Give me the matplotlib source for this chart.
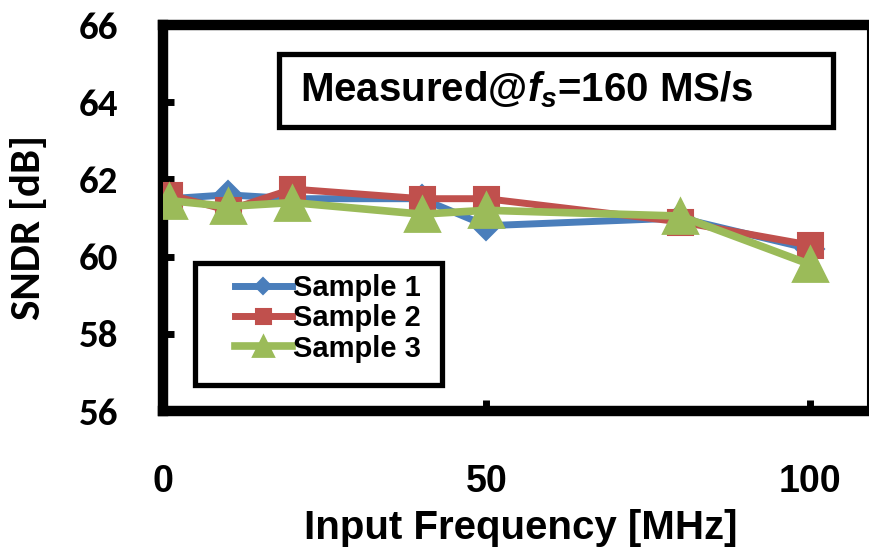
import matplotlib
matplotlib.use("Agg")
import matplotlib.pyplot as plt
from matplotlib.patches import Rectangle

plt.rcParams['mathtext.fontset'] = 'custom'
plt.rcParams['mathtext.rm'] = 'Liberation Sans:bold'
plt.rcParams['mathtext.it'] = 'Liberation Sans:bold:italic'
plt.rcParams['xtick.direction'] = 'in'
plt.rcParams['ytick.direction'] = 'in'

# input frequency [MHz] and measured SNDR [dB]
freq = [1, 10, 20, 40, 50, 80, 100]
sndr_s1 = [61.5, 61.6, 61.5, 61.5, 60.8, 61.0, 60.2]
sndr_s2 = [61.6, 61.2, 61.75, 61.5, 61.5, 60.9, 60.3]
sndr_s3 = [61.45, 61.3, 61.4, 61.1, 61.2, 61.05, 59.8]
labels = ['Sample 1', 'Sample 2', 'Sample 3']

yticks = [56, 58, 60, 62, 64, 66]
xticks = [0, 50, 100]

calibri = ['Carlito', 'Lato', 'DejaVu Sans']
arial = ['Liberation Sans', 'DejaVu Sans']

fig = plt.figure(figsize=(8.7, 5.51), dpi=100)
ax = fig.add_axes([163 / 870, 140 / 551, (868 - 163) / 870, (411 - 25) / 551])

ax.plot(freq, sndr_s1, color='#4A7EBB', lw=5, marker='D', ms=14,
        mec='#4A7EBB', mew=1.5, label=labels[0], zorder=3)
ax.plot(freq, sndr_s2, color='#C0504D', lw=5, marker='s', ms=18,
        mec='#C0504D', mew=1.5, label=labels[1], zorder=4)
ax.plot(freq, sndr_s3, color='#9BBB59', lw=5.5, marker='^', ms=25,
        mec='#9BBB59', mew=2, label=labels[2], zorder=5, solid_joinstyle='round')

ax.set_xlim(0, 109)
ax.set_ylim(56, 66)
ax.set_xticks(xticks)
ax.set_yticks(yticks)
ax.set_xticklabels([str(v) for v in xticks], fontfamily=arial, fontweight='bold', fontsize=27)
ax.set_yticklabels([str(v) for v in yticks], fontfamily=calibri, fontweight='bold', fontsize=28)
ax.tick_params(axis='y', direction='in', length=8, width=5, color='black', pad=32)
ax.tick_params(axis='x', direction='in', length=8, width=5, color='black', pad=38)

for side in ['left', 'top', 'bottom']:
    ax.spines[side].set_linewidth(7.5)
ax.spines['right'].set_linewidth(1.5)
for sp in ax.spines.values():
    sp.set_capstyle('projecting')

ax.set_xlabel('Input Frequency [MHz]', fontfamily=arial, fontweight='bold', fontsize=29)
ax.xaxis.set_label_coords(0.2, -0.255)
ax.xaxis.label.set_horizontalalignment('left')
ax.set_ylabel('SNDR [dB]', fontfamily=calibri, fontweight='bold', fontsize=31)
ax.yaxis.label.set_verticalalignment('center')
ax.yaxis.set_label_coords((29 - 163) / 705, 1 - (227 - 25) / 386)

# legend entries without frame; the frame is drawn separately
leg = ax.legend(loc='upper left', bbox_to_anchor=(235 / 870, 1 - 274 / 551),
                bbox_transform=fig.transFigure, frameon=False,
                prop={'family': arial, 'weight': 'bold', 'size': 21},
                handlelength=1.95, handletextpad=0.05, labelspacing=0.08,
                borderpad=0, borderaxespad=0, markerscale=0.6)
leg.set_zorder(10)
ax.add_patch(Rectangle((195 / 870, 1 - 385 / 551), (442 - 195) / 870, (385 - 263) / 551,
                       transform=fig.transFigure, fc='white', ec='black', lw=3.8, zorder=9))

# annotation box with the sampling rate
fig.patches.append(Rectangle((279 / 870, 1 - 127 / 551), (833 - 279) / 870, 73 / 551,
                             transform=fig.transFigure, fc='white', ec='black', lw=3.8))
fig.text(300 / 870, 1 - 90 / 551, 'Measured@$f_s$=160 MS/s', fontfamily=arial,
         fontweight='bold', fontsize=29, va='center', ha='left')

fig.savefig('out.png', dpi=100)
